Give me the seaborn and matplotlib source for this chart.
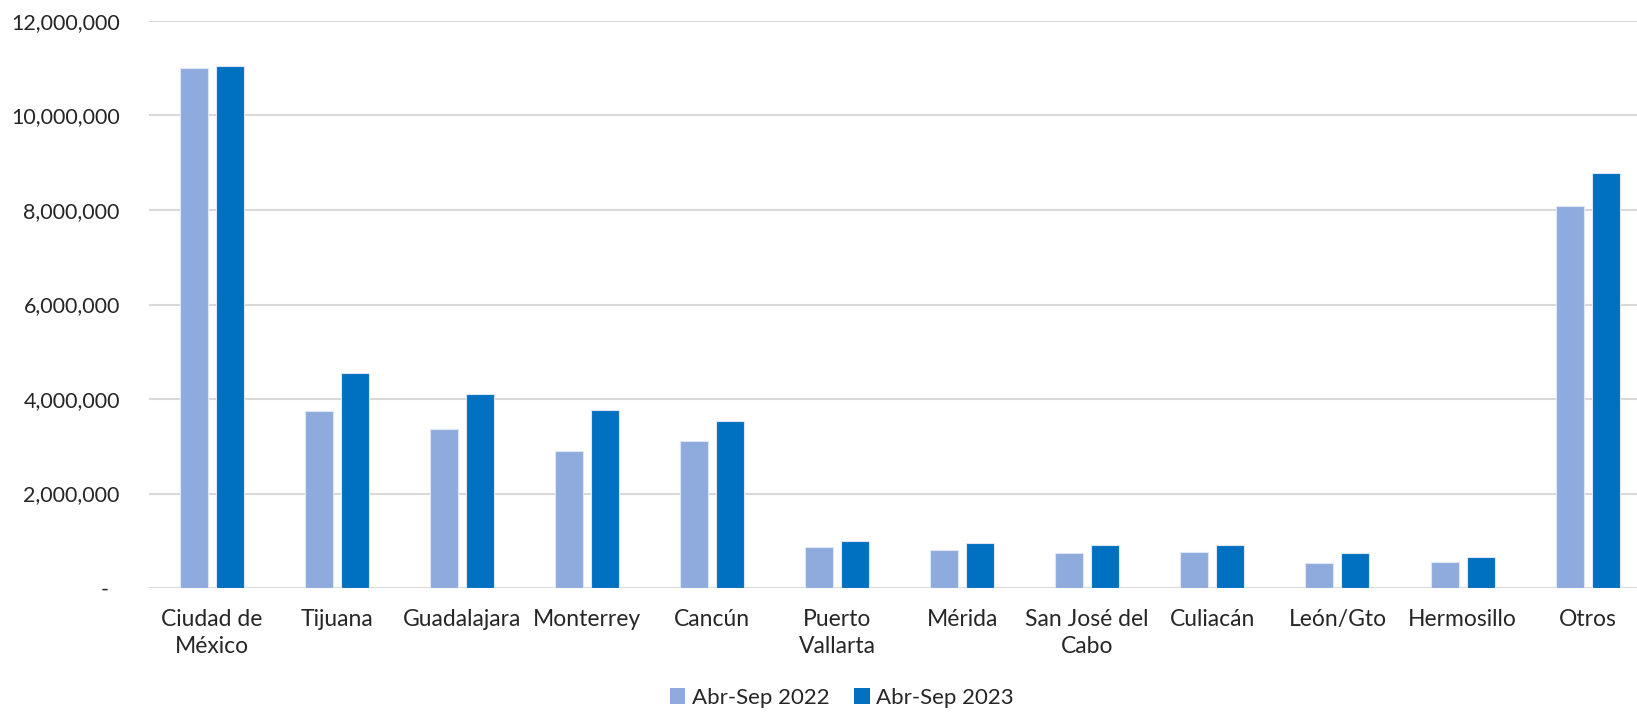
import matplotlib
matplotlib.use("Agg")
import matplotlib.pyplot as plt
import seaborn as sns
import pandas as pd
from matplotlib.ticker import FuncFormatter, MultipleLocator
from matplotlib.patches import Patch

categories = ["Ciudad de\nMéxico", "Tijuana", "Guadalajara", "Monterrey", "Cancún",
              "Puerto\nVallarta", "Mérida", "San José del\nCabo", "Culiacán",
              "León/Gto", "Hermosillo", "Otros"]
series_names = ["Abr-Sep 2022", "Abr-Sep 2023"]
values_2022 = [11000000, 3740000, 3360000, 2900000, 3110000, 860000, 800000,
               750000, 770000, 530000, 560000, 8080000]
values_2023 = [11040000, 4560000, 4100000, 3760000, 3530000, 990000, 960000,
               910000, 910000, 750000, 665000, 8780000]
colors = ["#8FAADC", "#0070C0"]

df = pd.DataFrame({
    "cat": categories * 2,
    "serie": [series_names[0]] * len(categories) + [series_names[1]] * len(categories),
    "val": values_2022 + values_2023,
})

sns.set_theme(style="white")
plt.rcParams["font.family"] = ["Lato", "DejaVu Sans"]

W, H = 1637, 712
fig = plt.figure(figsize=(W / 100, H / 100), dpi=100)
left = 149 / W
width = 12 * 125.1 / W
bottom = 1 - 588 / H
top = 1 - 21 / H
ax = fig.add_axes([left, bottom, width, top - bottom])

sns.barplot(data=df, x="cat", y="val", hue="serie", palette=colors, ax=ax,
            width=0.576, gap=0.222, edgecolor="#DDE6F5", linewidth=0.8,
            saturation=1, legend=False, zorder=3)

ax.set_xlim(-0.5, 11.5)
ax.set_ylim(0, 12000000)
ax.yaxis.set_major_locator(MultipleLocator(2000000))
ax.yaxis.set_major_formatter(FuncFormatter(lambda v, p: "-  " if v == 0 else f"{int(v):,}"))
ax.grid(axis="y", color="#D9D9D9", linewidth=1.5, zorder=0)
ax.set_axisbelow(True)
for s in ax.spines.values():
    s.set_visible(False)
ax.set_xlabel("")
ax.set_ylabel("")
ax.tick_params(axis="y", length=0, pad=21, labelsize=15.5, labelcolor="#262626")
ax.tick_params(axis="x", length=0, pad=15, labelsize=16.5, labelcolor="#262626")
for lbl in ax.get_xticklabels():
    lbl.set_linespacing(1.35)

handles = [Patch(facecolor=c, edgecolor="none") for c in colors]
fig.legend(handles, series_names, loc="center", bbox_to_anchor=(842 / W, 1 - 698 / H),
           ncol=2, frameon=False, fontsize=16, handlelength=0.7, handleheight=0.7,
           handletextpad=0.3, columnspacing=1.1, labelcolor="#262626")

fig.savefig("out.png", dpi=100)
